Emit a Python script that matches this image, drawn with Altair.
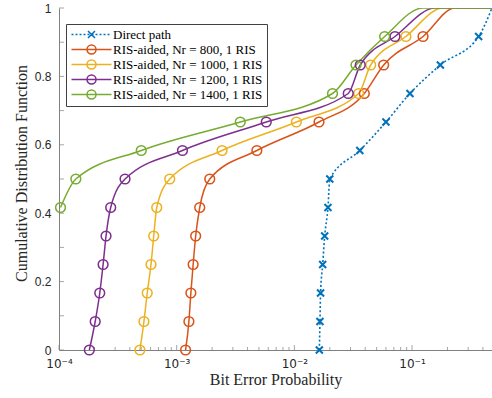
import altair as alt
import pandas as pd

# Series labels and MATLAB-style colours
series = [
    "Direct path",
    "RIS-aided, Nr = 800, 1 RIS",
    "RIS-aided, Nr = 1000, 1 RIS",
    "RIS-aided, Nr = 1200, 1 RIS",
    "RIS-aided, Nr = 1400, 1 RIS",
]
colors = ["#0072BD", "#D95319", "#EDB120", "#7E2F8E", "#77AC30"]

# CDF levels at which markers are drawn (k/12)
cdf_levels = [0.0, 1 / 12, 2 / 12, 3 / 12, 4 / 12, 5 / 12, 6 / 12, 7 / 12,
              8 / 12, 9 / 12, 10 / 12, 11 / 12]

# Bit error probability at each CDF level
ber_direct = [0.0163, 0.0165, 0.0167, 0.0174, 0.0181, 0.0193, 0.0200, 0.0360,
              0.0600, 0.0960, 0.174, 0.368]
ber_nr800 = [1.19e-3, 1.27e-3, 1.32e-3, 1.38e-3, 1.45e-3, 1.57e-3, 1.91e-3,
             4.8e-3, 0.0162, 0.0393, 0.0574, 0.124]
ber_nr1000 = [4.87e-4, 5.27e-4, 5.62e-4, 6.05e-4, 6.38e-4, 6.77e-4, 8.73e-4,
              2.43e-3, 0.0104, 0.0352, 0.0445, 0.0887]
ber_nr1200 = [1.81e-4, 2.03e-4, 2.22e-4, 2.37e-4, 2.51e-4, 2.75e-4, 3.64e-4,
              1.12e-3, 5.77e-3, 0.0287, 0.0363, 0.0716]
ber_nr1400 = [None, None, None, None, None, 1.03e-4, 1.39e-4, 5.0e-4,
              3.47e-3, 0.0211, 0.0334, 0.0585]

# Where each curve saturates at CDF = 1, then runs flat to the axis end
ber_at_one = [0.478, 0.231, 0.183, 0.157, 0.124]
x_max = 0.478

x_ticks = [1e-4, 1e-3, 1e-2, 1e-1]
x_tick_labels = ["10⁻⁴", "10⁻³", "10⁻²", "10⁻¹"]
y_ticks = [0, 0.1, 0.2, 0.3, 0.4, 0.5, 0.6, 0.7, 0.8, 0.9, 1]

all_ber = [ber_direct, ber_nr800, ber_nr1000, ber_nr1200, ber_nr1400]

marker_rows = []
line_rows = []
for name, bers, top in zip(series, all_ber, ber_at_one):
    for lvl, b in zip(cdf_levels, bers):
        if b is None:
            continue
        marker_rows.append({"series": name, "ber": b, "cdf": lvl})
        line_rows.append({"series": name, "ber": b, "cdf": lvl})
    line_rows.append({"series": name, "ber": top, "cdf": 1.0})
    if top < x_max:
        line_rows.append({"series": name, "ber": x_max, "cdf": 1.0})

markers = pd.DataFrame(marker_rows)
lines = pd.DataFrame(line_rows)

minor = [k * 10.0 ** e for e in range(-4, 0) for k in range(2, 10) if k * 10.0 ** e <= x_max]
major_df = pd.DataFrame({"v": x_ticks})
minor_df = pd.DataFrame({"v": minor})
ytick_df = pd.DataFrame({"v": y_ticks})

axis_grey = "#808080"
text_col = "#262626"

label_expr = " : ".join(
    f"datum.value < {v * 5} ? '{lab}'" for v, lab in zip(x_ticks[:-1], x_tick_labels[:-1])
) + f" : '{x_tick_labels[-1]}'"

x_scale = alt.Scale(type="log", domain=[1e-4, x_max], nice=False)
y_scale = alt.Scale(domain=[0, 1], nice=False)

x_enc = alt.X(
    "ber:Q", scale=x_scale,
    axis=alt.Axis(values=x_ticks, labelExpr=label_expr, ticks=False, grid=False,
                  domainColor=axis_grey, labelFont="DejaVu Sans", labelFontSize=12,
                  labelColor=text_col, labelPadding=8, labelFlush=False,
                  title="Bit Error Probability", titleFont="Liberation Serif",
                  titleFontSize=16, titleFontWeight="normal", titleColor=text_col,
                  titlePadding=2),
)
y_enc = alt.Y(
    "cdf:Q", scale=y_scale,
    axis=alt.Axis(values=y_ticks, format="~g", ticks=False, grid=False,
                  domainColor=axis_grey, labelFont="Liberation Sans", labelFontSize=12,
                  labelColor=text_col, labelPadding=8,
                  title="Cumulative Distribution Function", titleFont="Liberation Serif",
                  titleFontSize=16, titleFontWeight="normal", titleColor=text_col,
                  titleX=-38, titleY=165, titleBaseline="middle"),
)

# Legend glyphs: a short line segment with the series marker in its middle
dotted = "".join(f"M{-1 + i * 0.8:.2f},0h0.4" for i in range(10))
x_glyph = "M2.3,-0.7L3.7,0.7M3.7,-0.7L2.3,0.7"
ring = "M-1,0H7M2.1,0A0.9,0.9,0,1,1,3.9,0A0.9,0.9,0,1,1,2.1,0"
legend_shapes = [dotted + x_glyph, ring, ring, ring, ring]

legend_props = dict(
    title=None, orient="none", legendX=7, legendY=16,
    symbolSize=100, symbolStrokeWidth=1.5, symbolOpacity=1,
    symbolFillColor="transparent", symbolType="circle",
    labelFont="Liberation Serif", labelFontSize=13, labelColor="#000000",
    labelOffset=30, rowPadding=0, padding=4, labelLimit=300,
    strokeColor="#404040", fillColor="white",
)

color_enc = alt.Color("series:N", scale=alt.Scale(domain=series, range=colors),
                      legend=alt.Legend(**legend_props))

legend_layer = alt.Chart(markers).mark_point(opacity=0, filled=False).encode(
    x=x_enc, y=y_enc, color=color_enc,
    shape=alt.Shape("series:N", scale=alt.Scale(domain=series, range=legend_shapes),
                    legend=alt.Legend(**legend_props)),
)

direct_line = alt.Chart(lines).transform_filter(
    alt.datum.series == series[0]
).mark_line(strokeWidth=1.6, strokeDash=[2, 2.2], interpolate="monotone", clip=True).encode(
    x="ber:Q", y="cdf:Q", color=color_enc,
)

ris_lines = alt.Chart(lines).transform_filter(
    alt.datum.series != series[0]
).mark_line(strokeWidth=1.5, interpolate="monotone", clip=True).encode(
    x="ber:Q", y="cdf:Q", color=color_enc,
)

circle_layer = alt.Chart(markers).transform_filter(
    alt.datum.series != series[0]
).mark_point(shape="circle", size=95, filled=False, strokeWidth=1.5, opacity=1).encode(
    x="ber:Q", y="cdf:Q", color=color_enc,
)

cross_layer = alt.Chart(markers).transform_filter(
    alt.datum.series == series[0]
).mark_point(shape="M-1,-1L1,1M1,-1L-1,1", size=49, filled=False, strokeWidth=2, opacity=1).encode(
    x="ber:Q", y="cdf:Q", color=color_enc,
)

# Inward-pointing tick marks
major_ticks = alt.Chart(major_df).mark_tick(
    orient="vertical", size=5, thickness=1, yOffset=-2.5, color=axis_grey
).encode(x="v:Q", y=alt.datum(0))
minor_ticks = alt.Chart(minor_df).mark_tick(
    orient="vertical", size=3, thickness=1, yOffset=-1.5, color=axis_grey
).encode(x="v:Q", y=alt.datum(0))
y_tick_marks = alt.Chart(ytick_df).mark_tick(
    orient="horizontal", size=5, thickness=1, xOffset=2.5, color=axis_grey
).encode(y="v:Q", x=alt.datum(1e-4))

chart = alt.layer(
    legend_layer, major_ticks, minor_ticks, y_tick_marks,
    direct_line, ris_lines, circle_layer, cross_layer,
).properties(
    width=433, height=342,
    autosize=alt.AutoSizeParams(type="none"),
    padding={"left": 59, "top": 8, "right": 0, "bottom": 48},
    background="white",
).configure_view(stroke=None)

chart.save("out.html", embed_options={"renderer": "svg", "actions": False})
